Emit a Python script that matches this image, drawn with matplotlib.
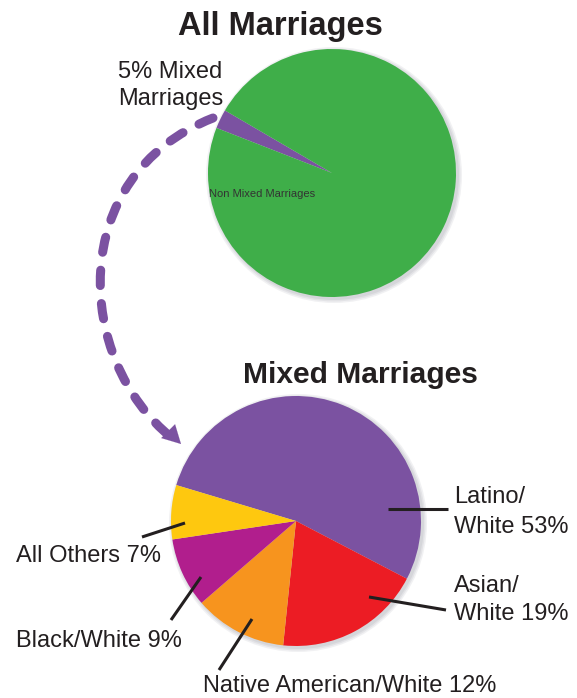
import matplotlib.pyplot as plt
from matplotlib.patches import Circle, PathPatch
from matplotlib.path import Path

# data
all_labels = ['Mixed Marriages', 'Non Mixed Marriages']
all_shares = [2.5, 97.5]          # drawn wedge is narrower than the 5% label says

mixed_labels = ['Latino/White', 'Asian/White', 'Native American/White', 'Black/White', 'All Others']
mixed_shares = [53, 19, 12, 9, 7]

TEXT = '#231f20'
PURPLE = '#7b52a1'
GREEN = '#3fae49'
mixed_colors = [PURPLE, '#ec1c24', '#f7941e', '#b11e8d', '#fec80f']

plt.rcParams['font.family'] = ['Liberation Sans', 'DejaVu Sans']

fig = plt.figure(figsize=(5.77, 6.98), dpi=100)
ax = fig.add_axes([0, 0, 1, 1])


def shadow(cx, cy, r):
    for dr, a in [(4, 0.25), (2.5, 0.35), (1, 0.5)]:
        ax.add_patch(Circle((cx + 2, cy - 2), r + dr, color='#c9cad0', alpha=a, lw=0, zorder=0))


# top pie
shadow(332, 525, 124)
ax.pie(all_shares, colors=[PURPLE, GREEN], startangle=158.7, counterclock=False,
       center=(332, 525), radius=124, frame=False, wedgeprops=dict(linewidth=0))

# bottom pie
shadow(296, 177, 125)
ax.pie(mixed_shares, colors=mixed_colors, startangle=163.3, counterclock=False,
       center=(296, 177), radius=125, frame=False, wedgeprops=dict(linewidth=0))

# titles
ax.text(280, 663, 'All Marriages', fontsize=23.5, fontweight='bold', color=TEXT, ha='center', va='baseline')
ax.text(360, 315, 'Mixed Marriages', fontsize=21.6, fontweight='bold', color=TEXT, ha='center', va='baseline')

ax.text(209, 501, 'Non Mixed Marriages', fontsize=8, color='#333333', ha='left', va='baseline')


def lines(x, y, txt, step=29):
    for i, ln in enumerate(txt.split('\n')):
        ax.text(x, y - i * step, ln, fontsize=17, color=TEXT, ha='left', va='baseline')


lines(118, 620, '5% Mixed\nMarriages', step=27)
lines(454, 195, 'Latino/\nWhite 53%', step=30)
lines(454, 106, 'Asian/\nWhite 19%', step=28)
lines(16, 136, 'All Others 7%')
lines(16, 51, 'Black/White 9%')
lines(203, 6, 'Native American/White 12%')

# leader lines
leaders = [((388, 448), (189, 189)), ((369, 446), (101, 88)), ((185, 142), (175, 161)),
           ((201, 171), (121, 78)), ((252, 219), (79, 28))]
for xs, ys in leaders:
    ax.plot(xs, ys, color=TEXT, lw=2.2, solid_capstyle='butt')

# dashed curved arrow from the mixed wedge to the lower pie
verts = [(213, 580), (65, 522), (75, 338), (172, 260)]
curve = Path(verts, [Path.MOVETO, Path.CURVE4, Path.CURVE4, Path.CURVE4])
ax.add_patch(PathPatch(curve, fill=False, edgecolor=PURPLE, lw=6.5, capstyle='round',
                       linestyle=(0, (1.7, 2.0)), zorder=3))
ax.annotate('', xy=(183, 252), xytext=(165, 270),
            arrowprops=dict(arrowstyle='-|>,head_length=1.3,head_width=0.7', color=PURPLE, lw=0.1))

ax.set_xlim(0, 577)
ax.set_ylim(0, 698)
ax.set_aspect('equal')
ax.axis('off')

fig.savefig('out.png', dpi=100)
